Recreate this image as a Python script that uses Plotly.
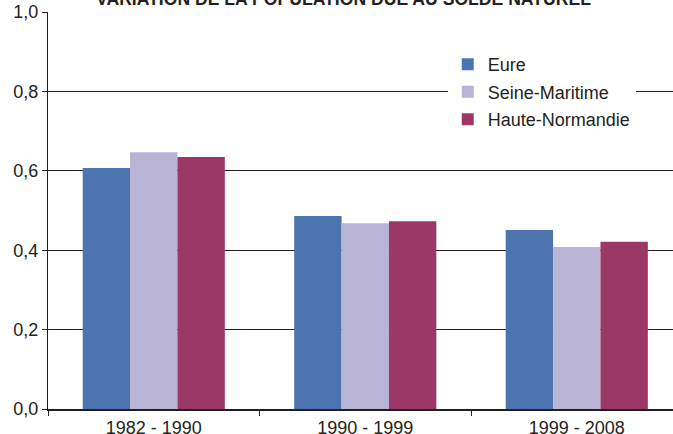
import plotly.graph_objects as go

periods = ["1982 - 1990", "1990 - 1999", "1999 - 2008"]
eure = [0.607, 0.486, 0.451]
seine_maritime = [0.647, 0.468, 0.408]
haute_normandie = [0.635, 0.473, 0.421]
y_ticks = [0.0, 0.2, 0.4, 0.6, 0.8, 1.0]

ink = "#231f20"
font = "Liberation Sans, Arial, sans-serif"

fig = go.Figure()
for name, vals, col in [("Eure", eure, "#4c74b1"),
                        ("Seine-Maritime", seine_maritime, "#b9b3d6"),
                        ("Haute-Normandie", haute_normandie, "#9c3868")]:
    fig.add_trace(go.Bar(x=periods, y=vals, name=name, legendgroup=name,
                         marker=dict(color=col, line=dict(width=0))))

fig.update_layout(
    width=673, height=434,
    margin=dict(l=48, r=0, t=12, b=25, autoexpand=False),
    paper_bgcolor="white", plot_bgcolor="white",
    separators=", ",
    barmode="group", bargap=0.328, bargroupgap=0,
    font=dict(family=font, size=18, color=ink),
    showlegend=True,
    legend=dict(x=0.6396, y=0.914, xanchor="left", yanchor="top",
                bgcolor="white", borderwidth=0, traceorder="grouped",
                tracegroupgap=1,
                font=dict(family=font, size=18, color=ink)),
)
fig.add_annotation(text="<b>VARIATION DE LA POPULATION DUE AU SOLDE NATUREL</b>",
                   xref="paper", yref="paper", x=(343 - 48) / 625, y=1.0,
                   xanchor="center", yanchor="middle", yshift=13, showarrow=False,
                   font=dict(family=font, size=17.6, color=ink))
fig.update_xaxes(type="category", range=[-0.5, 2.455], tickson="boundaries",
                 ticks="outside", ticklen=5, tickcolor=ink, tickwidth=1,
                 ticklabelstandoff=2,
                 showline=True, linecolor=ink, linewidth=1.5,
                 showgrid=False, zeroline=False, automargin=False)
fig.update_yaxes(range=[0, 1.0], tickvals=y_ticks, tickformat=".1f",
                 ticks="outside", ticklen=5, tickcolor=ink, tickwidth=1,
                 showline=True, linecolor=ink, linewidth=1,
                 showgrid=True, gridcolor=ink, gridwidth=1.3,
                 zeroline=False, automargin=False)

fig.write_html("out.html", config={"displayModeBar": False},
               post_script="document.body.style.margin='0';")
